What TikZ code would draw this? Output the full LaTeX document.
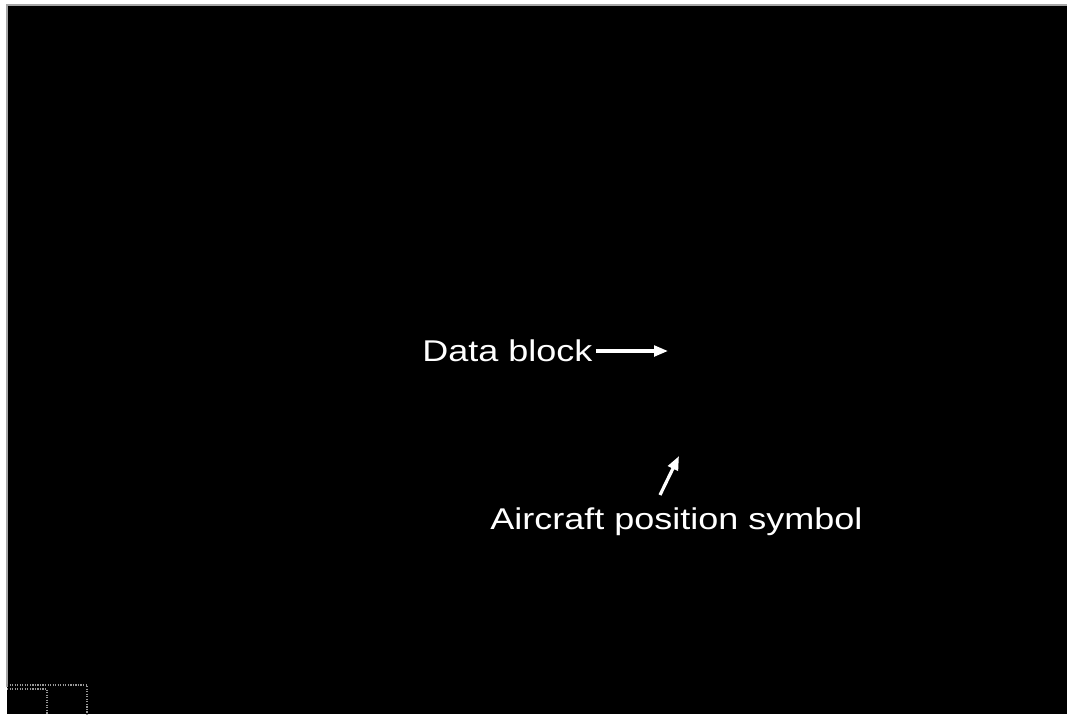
\documentclass[tikz,border=0pt]{standalone}
\usepackage{fontspec}
\setmainfont{Liberation Sans}
\usetikzlibrary{arrows.meta}
\begin{document}
\begin{tikzpicture}[x=0.75pt,y=-0.75pt,
  label text/.style={anchor=base west, inner sep=0pt, text=white,
    font=\fontsize{22.5pt}{27pt}\selectfont},
  pointer/.style={draw=white, line width=2.4pt,
    -{Triangle[length=10.5pt,width=8pt]}},
  frame line/.style={draw=gray!70, line width=0.8pt},
  panel line/.style={draw=gray!80, line width=0.9pt, densely dotted}]
  % page extent
  \useasboundingbox (0,0) rectangle (1067,714);
  \fill[white] (0,0) rectangle (1067,714);
  % radar screen
  \fill[black] (7,5) rectangle (1067,714);
  \draw[frame line] (7,687) -- (7,5) -- (1067,5);
  % control panel outlines, lower left
  \draw[panel line] (7,685) -- (87,685) -- (87,714);
  \draw[panel line] (7,689) -- (47,689) -- (47,714);
  % labels
  \node[label text] (db) at (422,361) {\scalebox{1.2}[1]{Data block}};
  \node[label text] (aps) at (490,529) {\scalebox{1.2}[1]{Aircraft position symbol}};
  % pointer ends
  \coordinate (dbtip) at (668,351);
  \coordinate (apstip) at (679,456);
  \coordinate (apstail) at (660,495);
  \draw[pointer] ([xshift=2.5pt]db.east |- dbtip) -- (dbtip);
  \draw[pointer] (apstail) -- (apstip);
\end{tikzpicture}
\end{document}
